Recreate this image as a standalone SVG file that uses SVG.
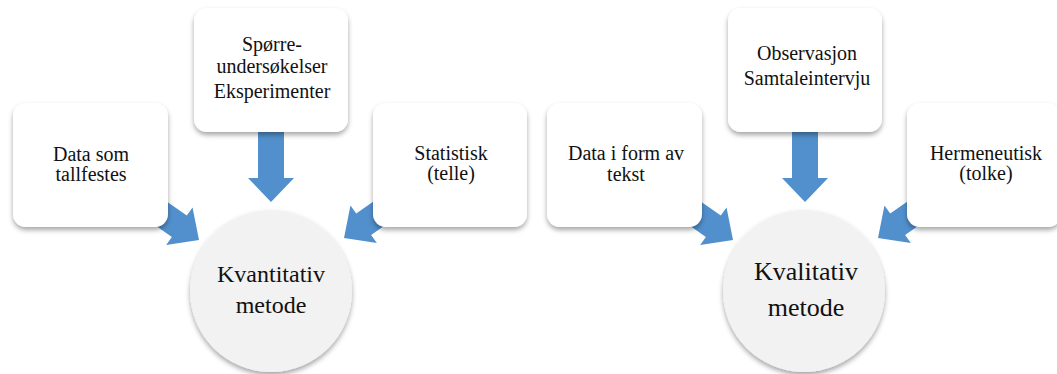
<svg xmlns="http://www.w3.org/2000/svg" width="1057" height="374" viewBox="0 0 1057 374">
<defs>
<style>
.box{fill:#ffffff;filter:url(#sh);}
.circ{fill:#f2f2f2;filter:url(#sh);}
.arr{fill:#5190cc;}
.t{font-family:"Liberation Serif","Times New Roman",serif;font-size:20px;fill:#111;text-anchor:middle;}
.tc{font-family:"Liberation Serif","Times New Roman",serif;font-size:24px;fill:#111;text-anchor:middle;}
.tc2{font-family:"Liberation Serif","Times New Roman",serif;font-size:26px;fill:#111;text-anchor:middle;}
</style>
<filter id="sh" x="-20%" y="-20%" width="140%" height="150%">
<feDropShadow dx="0" dy="3" stdDeviation="2.5" flood-color="#000" flood-opacity="0.35"/>
</filter>
<path id="ar" d="M -70 -13 L -24 -13 L -24 -23 L 0 0 L -24 23 L -24 13 L -70 13 Z"/>
</defs>
<rect width="1057" height="374" fill="#ffffff"/>
<g id="connectors">
<use href="#ar" class="arr" transform="translate(271,202) rotate(90)"/>
<use href="#ar" class="arr" transform="translate(199,240) rotate(35)"/>
<use href="#ar" class="arr" transform="translate(344,238) rotate(145)"/>
<use href="#ar" class="arr" transform="translate(805,202) rotate(90)"/>
<use href="#ar" class="arr" transform="translate(733,240) rotate(35)"/>
<use href="#ar" class="arr" transform="translate(878,238) rotate(145)"/>
</g>
<g id="node-data-tall">
<rect class="box" x="13" y="103" width="155" height="124" rx="13"/>
<text class="t" x="91" y="161">Data som</text>
<text class="t" x="91" y="181">tallfestes</text>
</g>
<g id="node-sporre">
<rect class="box" x="194" y="8" width="154" height="124" rx="13"/>
<text class="t" x="272" y="51">Spørre-</text>
<text class="t" x="272" y="73">undersøkelser</text>
<text class="t" x="272" y="98">Eksperimenter</text>
</g>
<g id="node-statistisk">
<rect class="box" x="373" y="103" width="154" height="124" rx="13"/>
<text class="t" x="451" y="160">Statistisk</text>
<text class="t" x="451" y="180">(telle)</text>
</g>
<g id="node-kvantitativ">
<circle class="circ" cx="271" cy="291" r="81"/>
<text class="tc" x="271" y="282">Kvantitativ</text>
<text class="tc" x="271" y="313">metode</text>
</g>
<g id="node-data-tekst">
<rect class="box" x="547" y="103" width="155" height="124" rx="13"/>
<text class="t" x="626" y="160">Data i form av</text>
<text class="t" x="626" y="181">tekst</text>
</g>
<g id="node-observasjon">
<rect class="box" x="728" y="8" width="154" height="124" rx="13"/>
<text class="t" x="807" y="60">Observasjon</text>
<text class="t" x="807" y="85">Samtaleintervju</text>
</g>
<g id="node-hermeneutisk">
<rect class="box" x="907" y="103" width="154" height="124" rx="13"/>
<text class="t" x="986" y="160">Hermeneutisk</text>
<text class="t" x="986" y="180">(tolke)</text>
</g>
<g id="node-kvalitativ">
<circle class="circ" cx="804" cy="291" r="81"/>
<text class="tc2" x="806" y="280">Kvalitativ</text>
<text class="tc2" x="806" y="316">metode</text>
</g>
</svg>
